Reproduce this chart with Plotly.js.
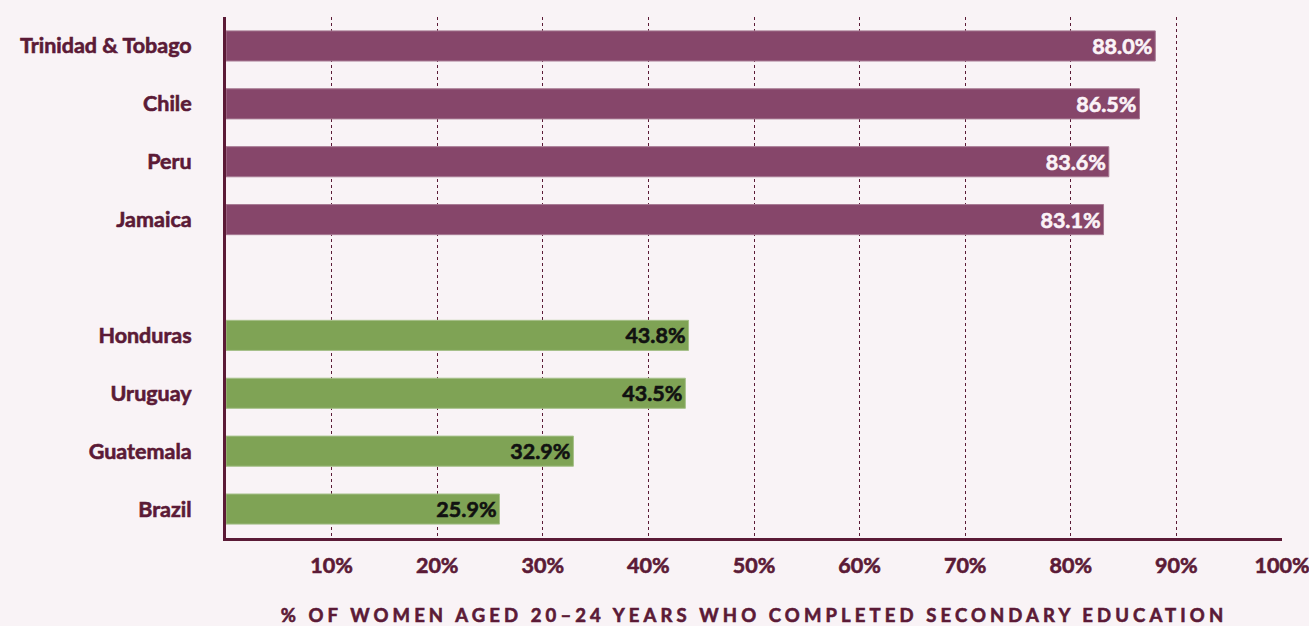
<!DOCTYPE html>
<html>
<head>
<meta charset="utf-8">
<script src="https://cdn.plot.ly/plotly-3.0.1.min.js"></script>
<style>
  html, body { margin: 0; padding: 0; background: #f9f3f6; }
  #chart { width: 1309px; height: 626px; }
  .xtitle { letter-spacing: 4.1px; }
</style>
</head>
<body>
<div id="chart"></div>
<script>
// Data
var topCountries = ['Trinidad & Tobago', 'Chile', 'Peru', 'Jamaica'];
var topValues = [88.0, 86.5, 83.6, 83.1];
var bottomCountries = ['Honduras', 'Uruguay', 'Guatemala', 'Brazil'];
var bottomValues = [43.8, 43.5, 32.9, 25.9];
var xTickVals = [10, 20, 30, 40, 50, 60, 70, 80, 90, 100];
var xTickText = ['10%', '20%', '30%', '40%', '50%', '60%', '70%', '80%', '90%', '100%'];
var xTitle = '% OF WOMEN AGED 20–24 YEARS WHO COMPLETED SECONDARY EDUCATION';

var maroon = '#5b1a36';
var fontFam = 'Lato, "Open Sans", sans-serif';
var categoryOrder = topCountries.concat([' ']).concat(bottomCountries);

function fmt(v) { return v.toFixed(1) + '%'; }

var traces = [
  {
    type: 'bar', orientation: 'h',
    y: topCountries, x: topValues,
    text: topValues.map(fmt),
    textposition: 'inside', insidetextanchor: 'end', constraintext: 'none',
    textfont: { family: fontFam, size: 21.5, color: '#fbf3f7', weight: 700 },
    marker: { color: '#86466a', line: { color: '#a77a93', width: 1 } },
    width: 0.52, hoverinfo: 'skip', cliponaxis: false
  },
  {
    type: 'bar', orientation: 'h',
    y: bottomCountries, x: bottomValues,
    text: bottomValues.map(fmt),
    textposition: 'inside', insidetextanchor: 'end', constraintext: 'none',
    textfont: { family: fontFam, size: 21.5, color: '#111111', weight: 700 },
    marker: { color: '#7fa355', line: { color: '#a6c08a', width: 1 } },
    width: 0.52, hoverinfo: 'skip', cliponaxis: false
  }
];

var layout = {
  width: 1309, height: 626,
  paper_bgcolor: '#f9f3f6', plot_bgcolor: '#f9f3f6',
  margin: { l: 226, r: 27, t: 17, b: 88 },
  showlegend: false,
  barmode: 'overlay',
  font: { family: fontFam, color: maroon },
  xaxis: {
    range: [0, 100], fixedrange: true,
    tickvals: xTickVals, ticktext: xTickText,
    tickfont: { family: fontFam, size: 21.5, color: maroon, weight: 700 },
    ticks: '', ticklabelstandoff: 6, ticklabeloverflow: 'allow',
    showgrid: true, gridcolor: maroon, gridwidth: 1, griddash: 'dot',
    showline: true, linecolor: maroon, linewidth: 3,
    zeroline: false,
    title: { text: xTitle, font: { family: fontFam, size: 18.5, color: maroon, weight: 700 }, standoff: 34 }
  },
  yaxis: {
    type: 'category', categoryorder: 'array', categoryarray: categoryOrder,
    range: [8.5, -0.5], fixedrange: true,
    tickfont: { family: fontFam, size: 21.5, color: maroon, weight: 700 },
    ticks: '', ticklabelstandoff: 27,
    showgrid: false,
    showline: true, linecolor: maroon, linewidth: 3,
    zeroline: false
  }
};

Plotly.newPlot('chart', traces, layout, { displayModeBar: false, staticPlot: true }).then(function (gd) {
  // thicken text strokes slightly to mimic the heavier original typeface
  var texts = gd.querySelectorAll('.xtick text, .ytick text, .xtitle, text.bartext');
  texts.forEach(function (t) {
    var f = t.style.fill || t.getAttribute('fill');
    if (f) {
      t.style.stroke = f;
      t.style.strokeWidth = '0.6px';
      t.style.paintOrder = 'stroke';
    }
  });
});
</script>
</body>
</html>
